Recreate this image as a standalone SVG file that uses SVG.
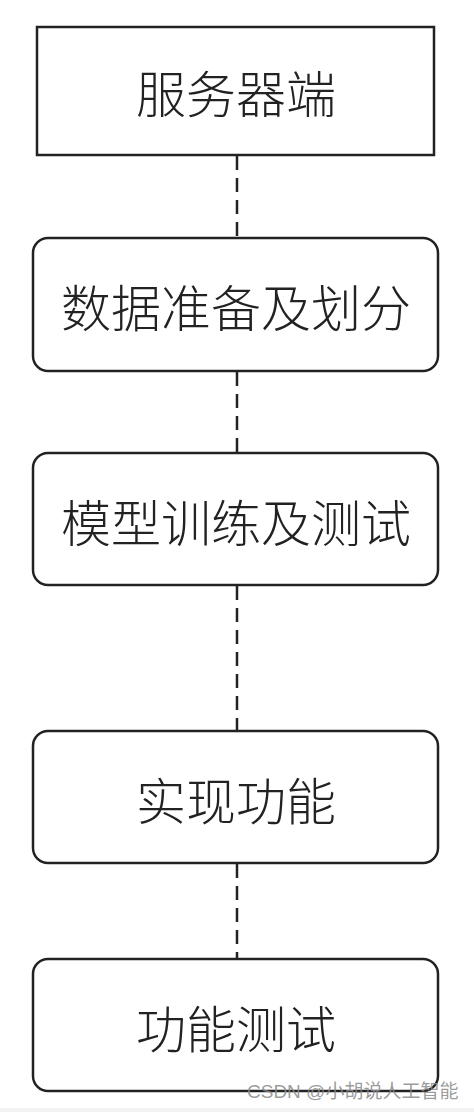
<svg xmlns="http://www.w3.org/2000/svg" width="474" height="1112" viewBox="0 0 474 1112">
<style>
.box{fill:#fff;stroke:#222;stroke-width:2.5}
.lbl{font-family:"Noto Sans CJK SC","Liberation Sans",sans-serif;font-size:50px;font-weight:300;fill:#222;text-anchor:middle;dominant-baseline:central}
.conn{stroke:#222;stroke-width:2.5;stroke-dasharray:14 8;fill:none}
.wm{font-family:"Liberation Sans","Noto Sans CJK SC",sans-serif;font-size:19px;fill:#8a8a8a;fill-opacity:0.85}
</style>
<rect x="0" y="0" width="474" height="1112" fill="#fff"/>
<rect x="0" y="1108" width="474" height="4" fill="#f2f2f2"/>
<g id="connectors">
<line class="conn" x1="237" y1="156" x2="237" y2="237"/>
<line class="conn" x1="237" y1="372" x2="237" y2="452"/>
<line class="conn" x1="237" y1="586" x2="237" y2="730"/>
<line class="conn" x1="237" y1="864" x2="237" y2="958"/>
</g>
<g id="n1">
<rect class="box" x="37" y="27" width="397" height="128"/>
<text class="lbl" x="236" y="91">服务器端</text>
</g>
<g id="n2">
<rect class="box" x="33" y="238" width="405" height="133" rx="15"/>
<text class="lbl" x="236" y="305">数据准备及划分</text>
</g>
<g id="n3">
<rect class="box" x="33" y="453" width="405" height="132" rx="15"/>
<text class="lbl" x="236" y="520">模型训练及测试</text>
</g>
<g id="n4">
<rect class="box" x="33" y="731" width="405" height="132" rx="15"/>
<text class="lbl" x="236" y="798">实现功能</text>
</g>
<g id="n5">
<rect class="box" x="33" y="959" width="405" height="132" rx="15"/>
<text class="lbl" x="236" y="1026">功能测试</text>
</g>
<text class="wm" x="247" y="1098">CSDN @小胡说人工智能</text>
</svg>
